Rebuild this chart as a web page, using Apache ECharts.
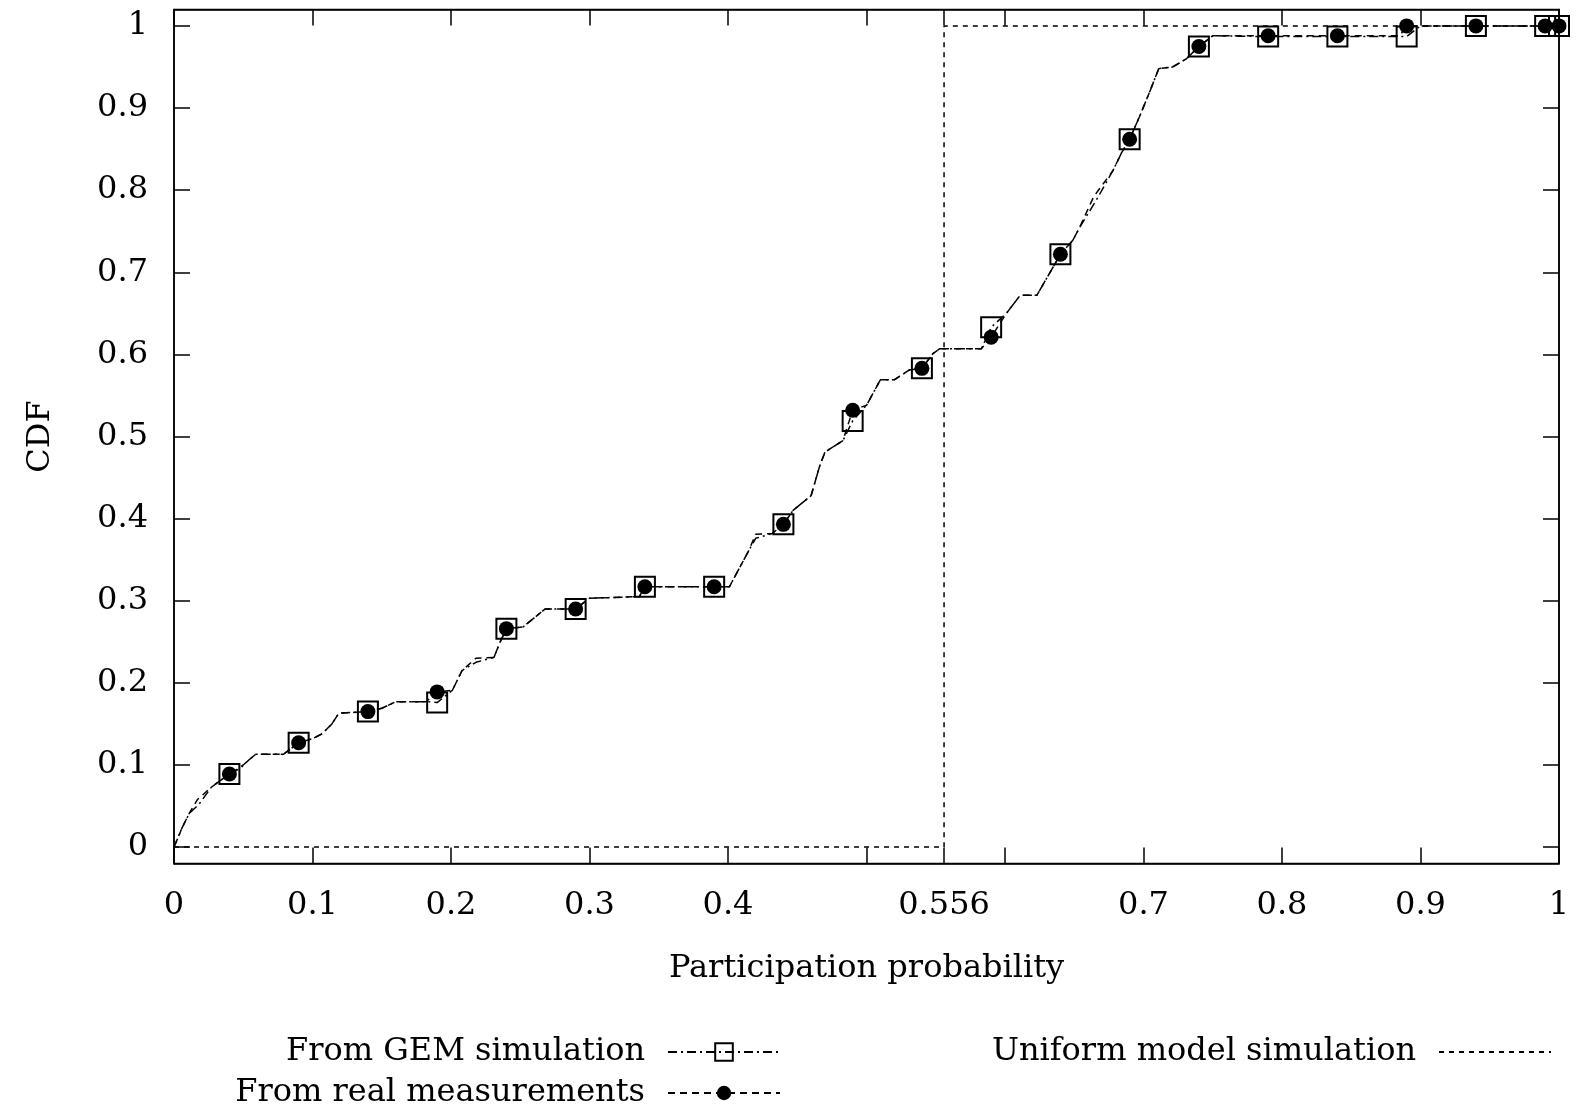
<!DOCTYPE html>
<html>
<head>
<meta charset="utf-8">
<title>CDF of participation probability</title>
<script src="https://cdn.jsdelivr.net/npm/echarts@6/dist/echarts.min.js"></script>
<style>
  html, body { margin: 0; padding: 0; background: #fff; }
  #chart { width: 1580px; height: 1107px; }
</style>
</head>
<body>
<div id="chart"></div>
<script>
// tick positions and labels
const xTicks = [0, 0.1, 0.2, 0.3, 0.4, 0.5, 0.556, 0.6, 0.7, 0.8, 0.9, 1];
const xLabels = [0, 0.1, 0.2, 0.3, 0.4, 0.556, 0.7, 0.8, 0.9, 1];
const yTicks = [0, 0.1, 0.2, 0.3, 0.4, 0.5, 0.6, 0.7, 0.8, 0.9, 1];

// uniform model: step at 0.556
const uniformX = [0, 0.556, 0.556, 1];
const uniformY = [0, 0, 1, 1];

// GEM simulation: path points and the points carrying a square marker
const gemCurve = [
  [0, 0], [0.006, 0.024], [0.011, 0.041], [0.018, 0.052], [0.027, 0.073],
  [0.048, 0.096], [0.054, 0.106], [0.059, 0.113], [0.079, 0.113],
  [0.1, 0.132], [0.107, 0.138], [0.114, 0.150], [0.119, 0.163],
  [0.150, 0.169], [0.160, 0.177], [0.184, 0.177],
  [0.201, 0.191], [0.208, 0.215], [0.218, 0.225], [0.231, 0.231], [0.235, 0.248],
  [0.252, 0.268], [0.268, 0.290],
  [0.300, 0.303], [0.336, 0.305],
  [0.401, 0.317], [0.415, 0.361], [0.420, 0.376], [0.432, 0.382],
  [0.447, 0.410], [0.460, 0.428], [0.466, 0.463], [0.470, 0.481], [0.483, 0.495],
  [0.500, 0.538], [0.510, 0.569], [0.520, 0.569], [0.531, 0.581],
  [0.548, 0.601], [0.553, 0.607], [0.583, 0.607],
  [0.601, 0.650], [0.611, 0.672], [0.623, 0.672], [0.635, 0.707],
  [0.649, 0.739], [0.654, 0.755], [0.666, 0.788], [0.678, 0.824], [0.684, 0.845],
  [0.697, 0.889], [0.705, 0.922], [0.711, 0.948], [0.721, 0.950], [0.731, 0.960],
  [0.750, 0.988], [0.900, 1.0]
];
const gemMarks = [
  [0.04, 0.089], [0.09, 0.127], [0.14, 0.165], [0.19, 0.176], [0.24, 0.266],
  [0.29, 0.290], [0.34, 0.317], [0.39, 0.317], [0.44, 0.393], [0.49, 0.519],
  [0.54, 0.583], [0.59, 0.633], [0.64, 0.722], [0.69, 0.862], [0.74, 0.975],
  [0.79, 0.987], [0.84, 0.987], [0.89, 0.987], [0.94, 1.0], [0.99, 1.0], [1.0, 1.0]
];

// real measurements: path points and the points carrying a dot marker
const realCurve = [
  [0, 0], [0.006, 0.024], [0.011, 0.041], [0.017, 0.058], [0.027, 0.073],
  [0.050, 0.100], [0.054, 0.106], [0.059, 0.113], [0.079, 0.113],
  [0.1, 0.132], [0.107, 0.138], [0.114, 0.150], [0.119, 0.163],
  [0.150, 0.169], [0.160, 0.177], [0.182, 0.177],
  [0.201, 0.191], [0.208, 0.215], [0.218, 0.230], [0.231, 0.231], [0.235, 0.248],
  [0.252, 0.268], [0.268, 0.290],
  [0.300, 0.303], [0.336, 0.305],
  [0.401, 0.317], [0.415, 0.361], [0.420, 0.381], [0.432, 0.382],
  [0.447, 0.410], [0.460, 0.428], [0.466, 0.463], [0.470, 0.481], [0.483, 0.495],
  [0.500, 0.538], [0.510, 0.569], [0.520, 0.569], [0.531, 0.581],
  [0.548, 0.601], [0.553, 0.607], [0.583, 0.607],
  [0.601, 0.650], [0.611, 0.672], [0.623, 0.672], [0.635, 0.707],
  [0.649, 0.739], [0.654, 0.755], [0.664, 0.792], [0.678, 0.824], [0.684, 0.845],
  [0.697, 0.889], [0.705, 0.922], [0.711, 0.948], [0.721, 0.950], [0.731, 0.960],
  [0.750, 0.988], [0.885, 0.988]
];
const realMarks = [
  [0.04, 0.089], [0.09, 0.127], [0.14, 0.165], [0.19, 0.189], [0.24, 0.266],
  [0.29, 0.290], [0.34, 0.317], [0.39, 0.317], [0.44, 0.393], [0.49, 0.532],
  [0.54, 0.583], [0.59, 0.621], [0.64, 0.722], [0.69, 0.862], [0.74, 0.975],
  [0.79, 0.988], [0.84, 0.988], [0.89, 1.0], [0.94, 1.0], [0.99, 1.0], [1.0, 1.0]
];

const FONT = 'DejaVu Serif';
const FS = 32;

// merge path points (no symbol) with marker points, sorted along x
function buildData(curve, marks) {
  const pts = curve.map(p => ({ value: p, symbol: 'none' }))
    .concat(marks.map(p => ({ value: p })));
  pts.sort((a, b) => a.value[0] - b.value[0]);
  return pts;
}

const fmt = v => String(+(+v).toFixed(3));

const chart = echarts.init(document.getElementById('chart'));

const tickStyle = { color: '#000', width: 1.5 };
const axisBase = {
  type: 'value',
  axisLine: { show: true, onZero: false, lineStyle: { color: '#000', width: 1.5 } },
  splitLine: { show: false }
};
const textBase = { fontFamily: FONT, fontSize: FS, color: '#000' };

const option = {
  animation: false,
  backgroundColor: '#fff',
  grid: {
    left: 174, right: 21, top: 9.5, bottom: 243.5,
    show: true, borderColor: '#000', borderWidth: 1.5,
    containLabel: false, outerBoundsMode: 'none'
  },
  xAxis: [
    Object.assign({}, axisBase, {
      min: 0, max: 1, position: 'bottom',
      axisTick: { show: true, inside: true, length: 16, customValues: xTicks, lineStyle: tickStyle },
      axisLabel: Object.assign({ customValues: xLabels, formatter: fmt, margin: 26 }, textBase),
      name: 'Participation probability', nameLocation: 'middle', nameGap: 89, nameMoveOverlap: false,
      nameTextStyle: textBase
    }),
    Object.assign({}, axisBase, {
      min: 0, max: 1, position: 'top',
      axisTick: { show: true, inside: true, length: 16, customValues: xTicks, lineStyle: tickStyle },
      axisLabel: { show: false }
    })
  ],
  yAxis: [
    Object.assign({}, axisBase, {
      min: -0.02, max: 1.02, position: 'left',
      axisTick: { show: true, inside: true, length: 16, customValues: yTicks, lineStyle: tickStyle },
      axisLabel: Object.assign({ customValues: yTicks, formatter: fmt, margin: 26 }, textBase),
      name: 'CDF', nameLocation: 'middle', nameGap: 117, nameRotate: 90, nameMoveOverlap: false,
      nameTextStyle: textBase
    }),
    Object.assign({}, axisBase, {
      min: -0.02, max: 1.02, position: 'right',
      axisTick: { show: true, inside: true, length: 16, customValues: yTicks, lineStyle: tickStyle },
      axisLabel: { show: false }
    })
  ],
  legend: [
    {
      data: ['From GEM simulation'],
      right: 799, top: 1036, orient: 'vertical', align: 'right', padding: 0,
      itemWidth: 112, itemHeight: 22,
      textStyle: Object.assign({ padding: [0, 18, 0, 0] }, textBase)
    },
    {
      data: ['From real measurements'],
      right: 799, top: 1077, orient: 'vertical', align: 'right', padding: 0,
      itemWidth: 112, itemHeight: 18,
      textStyle: Object.assign({ padding: [0, 18, 0, 0] }, textBase)
    },
    {
      data: [{ name: 'Uniform model simulation', itemStyle: { opacity: 0 } }],
      right: 28, top: 1036, orient: 'vertical', align: 'right', padding: 0,
      itemWidth: 112, itemHeight: 22,
      textStyle: Object.assign({ padding: [0, 18, 0, 0] }, textBase)
    }
  ],
  series: [
    {
      name: 'Uniform model simulation',
      type: 'line',
      data: uniformX.map((x, i) => [x, uniformY[i]]),
      symbol: 'none',
      lineStyle: { color: '#000', width: 1.5, type: [5, 5] },
      itemStyle: { color: '#000' },
      z: 2
    },
    {
      name: 'From GEM simulation',
      type: 'line',
      data: buildData(gemCurve, gemMarks),
      symbol: 'rect',
      symbolSize: 20,
      showSymbol: true,
      showAllSymbol: true,
      lineStyle: { color: '#000', width: 1.5, type: [9, 4, 2, 4] },
      itemStyle: { color: 'rgba(0,0,0,0)', borderColor: '#000', borderWidth: 2 },
      z: 3
    },
    {
      name: 'From real measurements',
      type: 'line',
      data: buildData(realCurve, realMarks),
      symbol: 'circle',
      symbolSize: 15,
      showSymbol: true,
      showAllSymbol: true,
      lineStyle: { color: '#000', width: 1.5, type: [7, 5] },
      itemStyle: { color: '#000' },
      z: 4
    }
  ]
};

chart.setOption(option);
</script>
</body>
</html>
